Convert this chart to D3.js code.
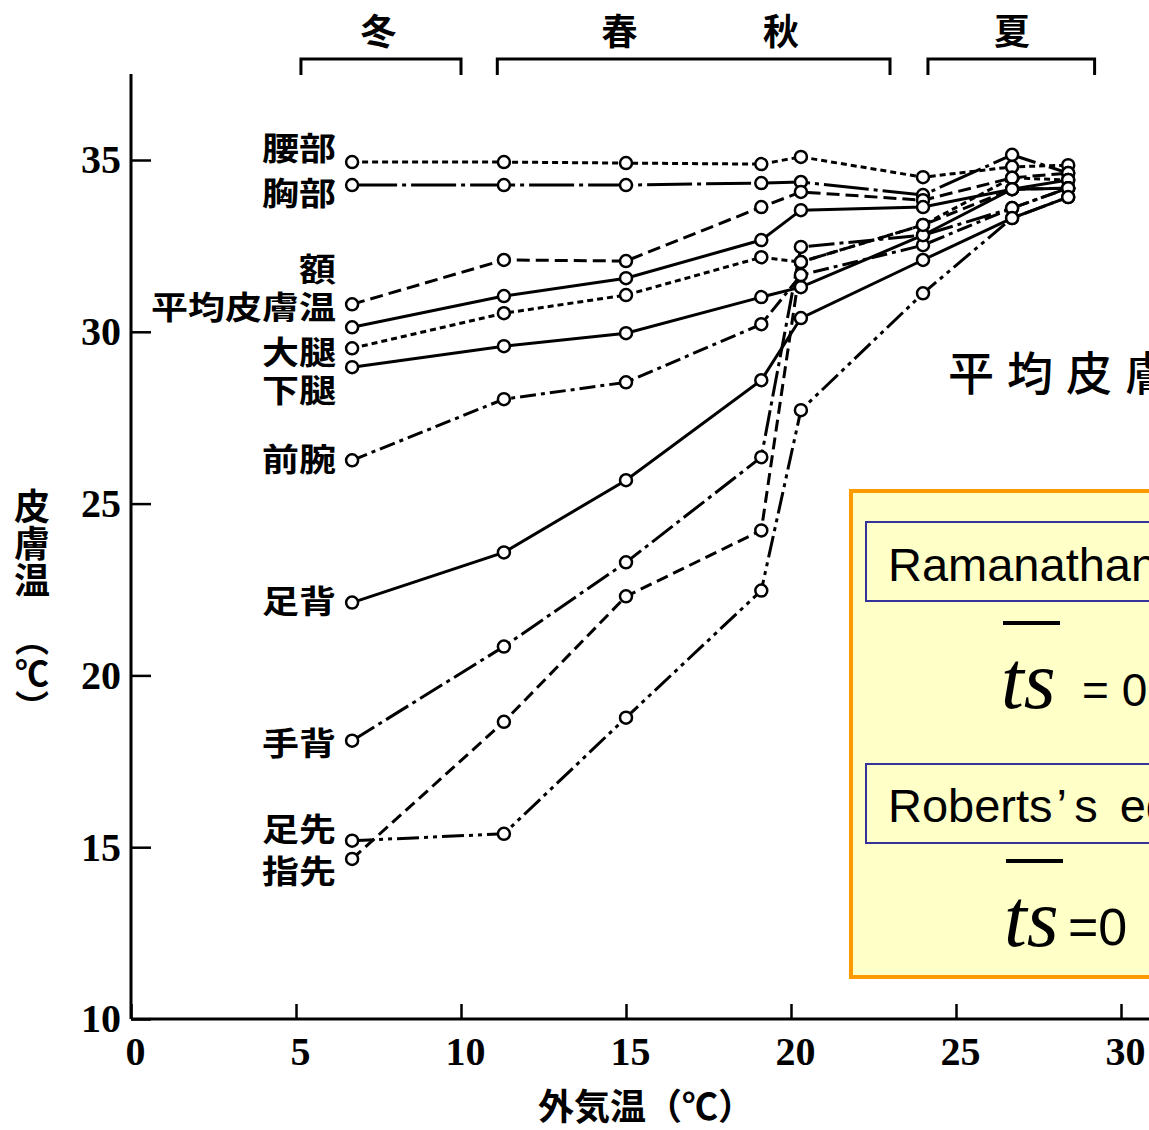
<!DOCTYPE html>
<html><head><meta charset="utf-8">
<script src="https://cdn.jsdelivr.net/npm/d3@7"></script>
<style>
body{margin:0;background:#fff;overflow:hidden}
svg{display:block}
</style>
</head><body>
<svg id="c" width="1149" height="1130"></svg>
<script>
// ---- data ----
const temps = [6.7, 11.3, 15.0, 19.1, 20.3, 24.0, 26.7, 28.4];   // 外気温 (℃)
const waist    = [34.94, 34.94, 34.91, 34.88, 35.09, 34.50, 34.80, 34.85]; // 腰部
const chest    = [34.27, 34.27, 34.27, 34.33, 34.36, 33.98, 35.15, 34.62]; // 胸部
const forehead = [30.80, 32.09, 32.06, 33.63, 34.07, 33.83, 34.48, 34.62]; // 額
const meanSkin = [30.13, 31.04, 31.56, 32.67, 33.54, 33.63, 34.15, 34.42]; // 平均皮膚温
const thigh    = [29.52, 30.54, 31.07, 32.17, 32.03, 33.11, 34.48, 34.42]; // 大腿
const leg      = [28.97, 29.58, 29.96, 31.01, 31.30, 32.81, 34.15, 34.18]; // 下腿
const forearm  = [26.26, 28.04, 28.53, 30.22, 31.65, 32.52, 33.60, 34.18]; // 前腕
const instep   = [22.12, 23.58, 25.68, 28.59, 30.40, 32.09, 33.31, 33.92]; // 足背
const handBack = [18.10, 20.84, 23.29, 26.35, 32.47, 32.81, 33.60, 34.18]; // 手背
const finger   = [14.66, 18.65, 22.30, 24.22, 32.03, 33.11, 34.15, 34.18]; // 指先
const toe      = [15.19, 15.39, 18.77, 22.47, 27.72, 31.12, 33.31, 33.92]; // 足先

const seriesNames  = ["腰部","胸部","額","平均皮膚温","大腿","下腿","前腕","足背","手背","指先","足先"];
const seriesValues = [waist, chest, forehead, meanSkin, thigh, leg, forearm, instep, handBack, finger, toe];
const labelValues  = [35.32, 34.01, 31.80, 30.72, 29.41, 28.30, 26.27, 22.14, 18.03, 14.28, 15.50];

const xTicks = [0, 5, 10, 15, 20, 25, 30];
const yTicks = [10, 15, 20, 25, 30, 35];
const seasonNames = ["冬", "春", "秋", "夏"];
const seasonAt    = [7.5, 14.8, 19.7, 26.7];
const bracketRanges = [[5.15, 10.0], [11.1, 23.0], [24.15, 29.2]];

// ---- styles ----
const dashes = ["6,4", "45,5,4,5", "13,6", null, "6,4", null, "16,5,4,5", null, "26,5,4,5", "12,6", "22,5,4,5,4,5"];
const CJK = "'Noto Sans CJK JP','Noto Sans CJK SC',sans-serif";
const NUM = "'Liberation Serif','DejaVu Serif',serif";

const svg = d3.select("#c");
svg.append("rect").attr("width",1149).attr("height",1130).attr("fill","#fff");

const x = d3.scaleLinear().domain([0, 30]).range([131, 1121]);
const y = d3.scaleLinear().domain([10, 35]).range([1019, 160]);

// axes
const yAxis = svg.append("g").attr("transform", `translate(${x(0)},0)`)
  .call(d3.axisLeft(y).tickValues(yTicks).tickSize(-20).tickPadding(10).tickFormat(d3.format("d")));
const xAxis = svg.append("g").attr("transform", `translate(0,${y(10)})`)
  .call(d3.axisBottom(x).tickValues(xTicks).tickSize(-15).tickPadding(18).tickFormat(d3.format("d")));
[yAxis, xAxis].forEach(g => {
  g.select(".domain").remove();
  g.selectAll(".tick line").attr("stroke","#000").attr("stroke-width",2.5);
  g.selectAll(".tick text").attr("fill","#000").style("font-family",NUM)
    .style("font-weight","bold").style("font-size","40px");
});
xAxis.selectAll(".tick text").attr("dx", 4);
svg.append("line").attr("x1",x(0)).attr("x2",x(0)).attr("y1",y(37.5)).attr("y2",y(10))
  .attr("stroke","#000").attr("stroke-width",3);
svg.append("line").attr("x1",x(0)).attr("x2",1149).attr("y1",y(10)).attr("y2",y(10))
  .attr("stroke","#000").attr("stroke-width",3);

// axis titles
svg.append("text").attr("x",538).attr("y",1120).text("外気温（℃）")
  .style("font-family",CJK).style("font-weight","bold").style("font-size","36px");
svg.append("text").attr("x",32).attr("y",488).text("皮膚温")
  .style("writing-mode","vertical-rl").style("font-family",CJK).style("font-weight","bold")
  .style("font-size","36px").style("letter-spacing","1px");
svg.append("text").attr("x",32).attr("y",622).text("（℃）")
  .style("writing-mode","vertical-rl").style("font-family",CJK).style("font-weight","bold")
  .style("font-size","34px");

// seasons
svg.selectAll(".season").data(seasonNames).enter().append("text")
  .attr("x",(d,i)=>x(seasonAt[i])).attr("y",45).attr("text-anchor","middle").text(d=>d)
  .style("font-family",CJK).style("font-weight","bold").style("font-size","36px");
svg.selectAll(".bracket").data(bracketRanges).enter().append("path")
  .attr("d",d=>`M${x(d[0])},75V59H${x(d[1])}V75`)
  .attr("fill","none").attr("stroke","#000").attr("stroke-width",3);

// lines
const line = d3.line().x((d,i)=>x(temps[i])).y(d=>y(d));
seriesValues.forEach((vals,k)=>{
  svg.append("path").attr("d",line(vals)).attr("fill","none").attr("stroke","#000")
    .attr("stroke-width",3).attr("stroke-dasharray",dashes[k]);
});
seriesValues.forEach((vals,k)=>{
  svg.append("g").selectAll("circle").data(vals).enter().append("circle")
    .attr("cx",(d,i)=>x(temps[i])).attr("cy",d=>y(d)).attr("r",6)
    .attr("fill","#fff").attr("stroke","#000").attr("stroke-width",2.5);
});

// series labels (slightly flattened glyphs like the printed figure)
svg.selectAll(".lab").data(seriesNames).enter().append("text")
  .attr("transform",(d,i)=>`translate(336,${y(labelValues[i])}) scale(1,0.86)`)
  .attr("dy","0.36em").attr("text-anchor","end").text(d=>d)
  .style("font-family",CJK).style("font-weight","bold").style("font-size","37px");

// overlay caption
svg.append("text").attr("x",948).attr("y",390).text("平均皮膚")
  .style("font-family",CJK).style("font-weight","500").style("font-size","46px")
  .style("letter-spacing","13px");

// formula box
svg.append("rect").attr("x",851).attr("y",491).attr("width",320).attr("height",486)
  .attr("fill","#FFFFC8").attr("stroke","#FF9900").attr("stroke-width",4);
svg.append("rect").attr("x",866).attr("y",522).attr("width",300).attr("height",79)
  .attr("fill","none").attr("stroke","#333399").attr("stroke-width",2);
svg.append("rect").attr("x",866).attr("y",764).attr("width",300).attr("height",79)
  .attr("fill","none").attr("stroke","#333399").attr("stroke-width",2);
const SANS = "'Liberation Sans',Arial,sans-serif";
svg.append("text").attr("x",888).attr("y",581).text("Ramanathan’s equation")
  .style("font-family",SANS).style("font-size","47px");
const rob = svg.append("text").attr("x",888).attr("y",822)
  .style("font-family",SANS).style("font-size","47px");
rob.append("tspan").text("Roberts");
rob.append("tspan").attr("dx",4).text("’");
rob.append("tspan").attr("dx",8).text("s");
rob.append("tspan").attr("dx",22).text("equation");

svg.append("line").attr("x1",1003).attr("x2",1060).attr("y1",623).attr("y2",623)
  .attr("stroke","#000").attr("stroke-width",4);
svg.append("text").attr("x",1001).attr("y",708).text("ts")
  .style("font-family",NUM).style("font-style","italic").style("font-size","82px");
svg.append("text").attr("x",1082).attr("y",706).text("= 0")
  .style("font-family",SANS).style("font-size","46px");
svg.append("line").attr("x1",1006).attr("x2",1063).attr("y1",861).attr("y2",861)
  .attr("stroke","#000").attr("stroke-width",4);
svg.append("text").attr("x",1004).attr("y",946).text("ts")
  .style("font-family",NUM).style("font-style","italic").style("font-size","82px");
svg.append("text").attr("x",1068).attr("y",945).text("=0")
  .style("font-family",SANS).style("font-size","52px");
</script>
</body></html>
